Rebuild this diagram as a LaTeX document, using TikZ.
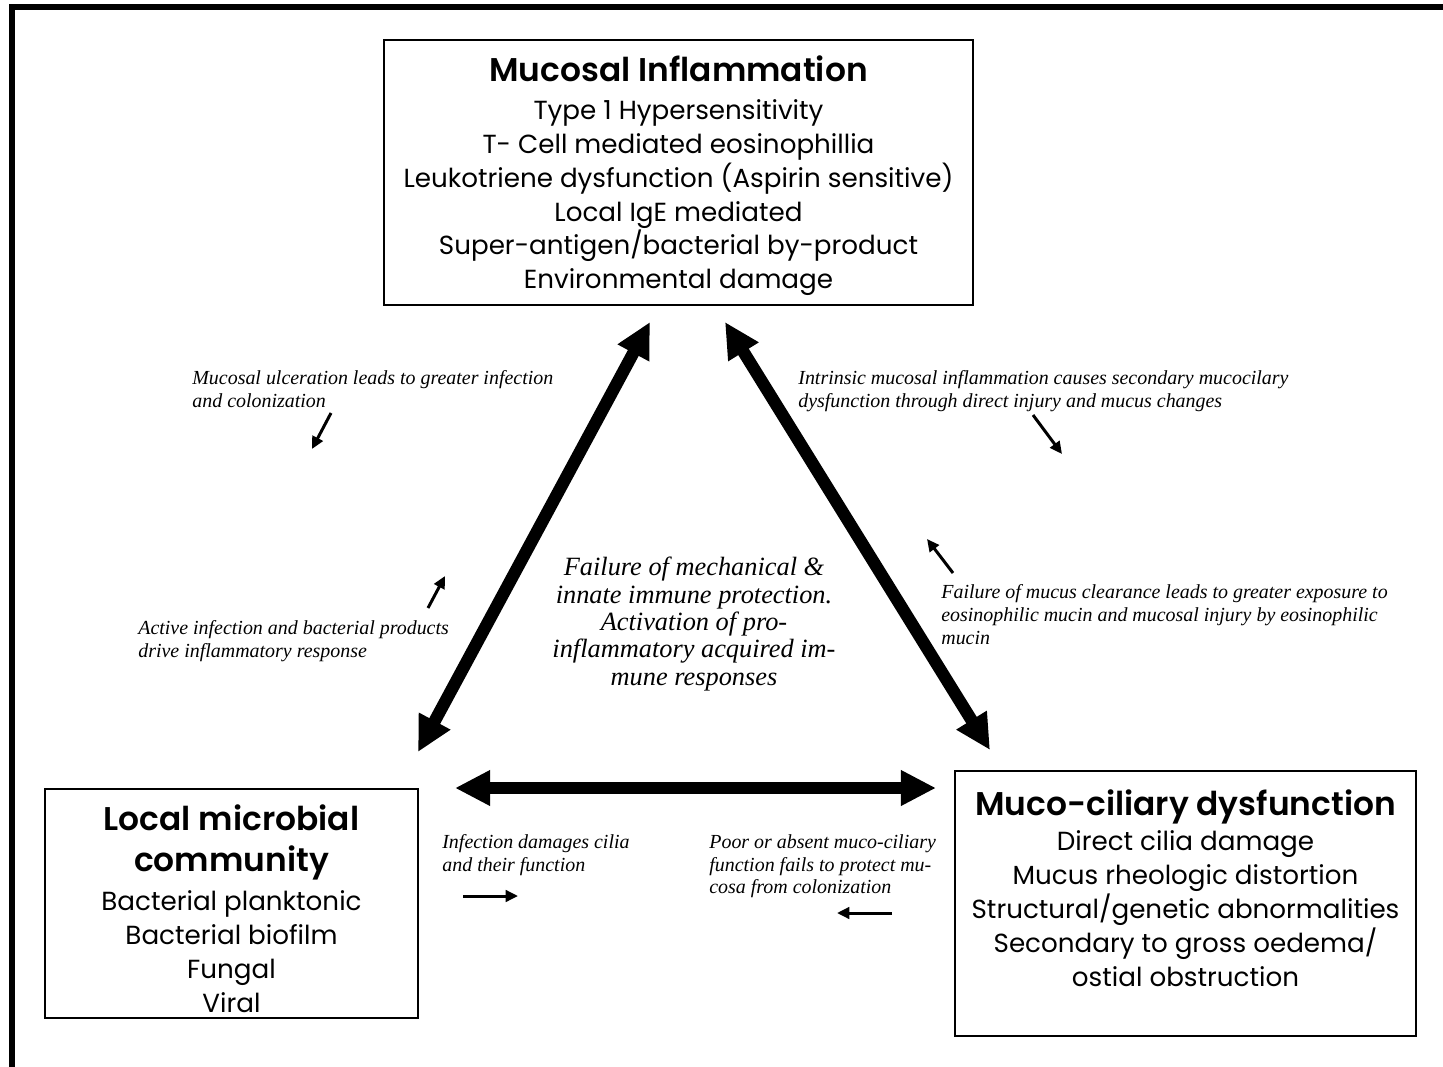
\documentclass[tikz,border=0pt]{standalone}
\usepackage{fontspec}
\setmainfont{Liberation Serif}
\newfontfamily\boxfont[BoldFont={Poppins SemiBold}]{Poppins}
\usetikzlibrary{arrows.meta}

\tikzset{
  box/.style={draw, line width=1.1pt, inner sep=0pt},
  boxtext/.style={font=\boxfont\fontsize{14.9}{19.3}\selectfont, align=center, inner sep=0pt},
  head/.style={font=\boxfont\bfseries\fontsize{18.7}{23}\selectfont},
  note/.style={font=\itshape\fontsize{11.35}{13}\selectfont, align=left, anchor=north west, inner sep=0pt},
  middle/.style={font=\itshape\fontsize{15}{15.6}\selectfont, align=center, inner sep=0pt},
  bigarrow/.style={line width=7pt, {Triangle[length=20pt,width=19pt]}-{Triangle[length=20pt,width=19pt]}},
  smallarrow/.style={line width=1.7pt, -{Triangle[length=7pt,width=6.5pt]}},
}
\newcommand{\hd}[1]{\textbf{\fontsize{18.7}{23}\selectfont #1}}

\begin{document}
\begin{tikzpicture}[x=0.02cm,y=-0.02cm]

\useasboundingbox (0,0) rectangle (1443,1067);

% Frame
\draw[line width=3.4pt] (12,1067) -- (12,7) -- (1443,7);

% Boxes
\node[box, minimum width=11.78cm, minimum height=5.3cm] (infl) at (678.5,172.5) {};
\node[box, minimum width=7.46cm, minimum height=4.58cm] (micro) at (231.5,903.5) {};
\node[box, minimum width=9.22cm, minimum height=5.3cm] (mcd) at (1185.5,903.5) {};

% Box texts
\node[boxtext] (infl-txt) at (678.5,176) {\hd{Mucosal Inflammation}\\[2pt]
  Type 1 Hypersensitivity\\
  T- Cell mediated eosinophillia\\
  Leukotriene dysfunction (Aspirin sensitive)\\
  Local IgE mediated\\
  Super-antigen/bacterial by-product\\
  Environmental damage};
\node[boxtext] (micro-txt) at (231.5,908.5) {\hd{Local microbial}\\[4.3pt]
  \hd{community}\\[2.5pt]
  Bacterial planktonic\\
  Bacterial biofilm\\
  Fungal\\
  Viral};
\node[boxtext] (mcd-txt) at (1185.5,888) {\hd{Muco-ciliary dysfunction}\\[1pt]
  Direct cilia damage\\
  Mucus rheologic distortion\\
  Structural/genetic abnormalities\\
  Secondary to gross oedema/\\
  ostial obstruction};

% Big arrows
\coordinate (infl-l) at (650,322);
\coordinate (infl-r) at (725,322);
\coordinate (micro-t) at (418,752);
\coordinate (micro-r) at (455,788);
\coordinate (mcd-t) at (990,750);
\coordinate (mcd-l) at (936,788);
\draw[bigarrow] (micro-t) -- (infl-l);
\draw[bigarrow] (infl-r) -- (mcd-t);
\draw[bigarrow] (micro-r) -- (mcd-l);

% Centre text
\node[middle] (centre) at (694,624) {Failure of mechanical \&\\
  innate immune protection.\\
  Activation of pro-\\
  inflammatory acquired im-\\
  mune responses};

% Notes
\node[note] (n-ulcer) at (192,370) {Mucosal ulceration leads to greater infection\\and colonization};
\node[note] (n-intr) at (798,370) {Intrinsic mucosal inflammation causes secondary mucocilary\\dysfunction through direct injury and mucus changes};
\node[note] (n-active) at (138,620) {Active infection and bacterial products\\drive inflammatory response};
\node[note] (n-fail) at (941,584) {Failure of mucus clearance leads to greater exposure to\\eosinophilic mucin and mucosal injury by eosinophilic\\mucin};
\node[note] (n-damage) at (442,834) {Infection damages cilia\\and their function};
\node[note] (n-poor) at (709,834) {Poor or absent muco-ciliary\\function fails to protect mu-\\cosa from colonization};

% Small arrows
\coordinate (a1) at (331,413); \coordinate (a1e) at (312,449);
\coordinate (a2) at (1033,415); \coordinate (a2e) at (1062,454);
\coordinate (a3) at (428,608); \coordinate (a3e) at (445,576);
\coordinate (a4) at (953,573); \coordinate (a4e) at (927,539);
\coordinate (a5) at (463,896); \coordinate (a5e) at (518,896);
\coordinate (a6) at (892,913); \coordinate (a6e) at (837,913);
\draw[smallarrow] (a1) -- (a1e);
\draw[smallarrow] (a2) -- (a2e);
\draw[smallarrow] (a3) -- (a3e);
\draw[smallarrow] (a4) -- (a4e);
\draw[smallarrow] (a5) -- (a5e);
\draw[smallarrow] (a6) -- (a6e);

\end{tikzpicture}
\end{document}
